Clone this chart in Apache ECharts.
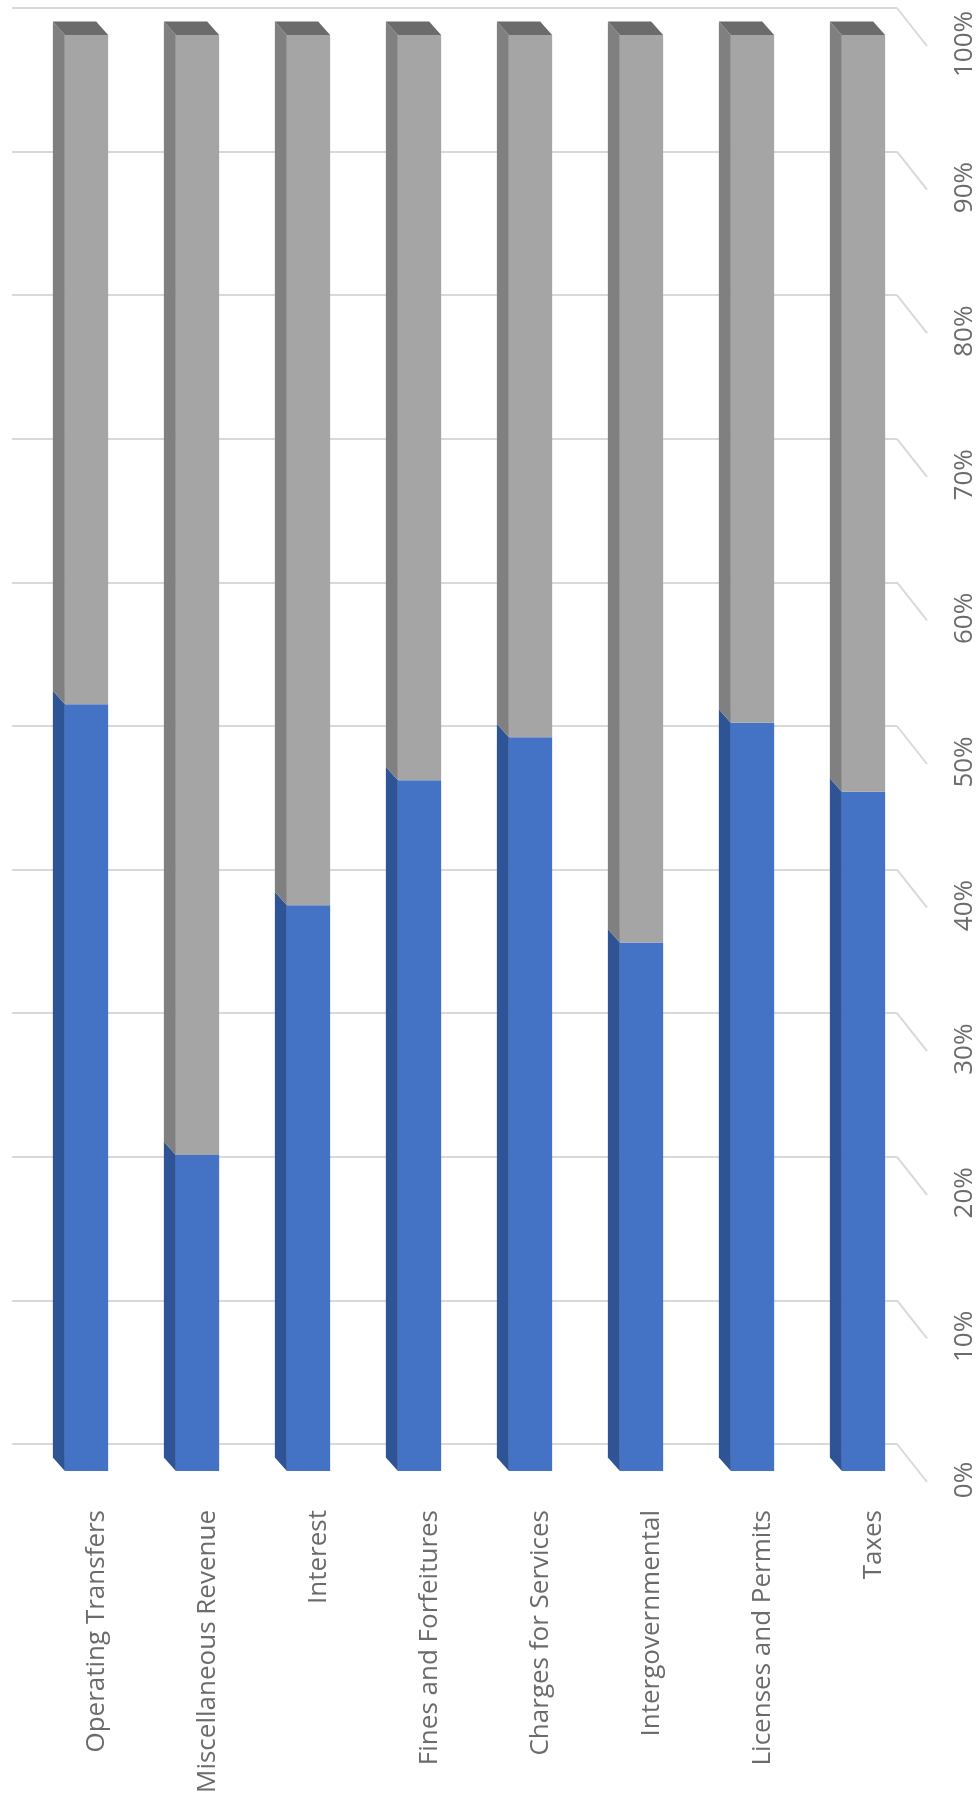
<!DOCTYPE html>
<html><head><meta charset="utf-8">
<script src="https://cdn.jsdelivr.net/npm/echarts@6/dist/echarts.min.js"></script>
<style>html,body{margin:0;padding:0;background:#fff}#c{width:978px;height:1800px}</style>
</head><body><div id="c"></div>
<script>
const categories = ['Operating Transfers','Miscellaneous Revenue','Interest','Fines and Forfeitures','Charges for Services','Intergovernmental','Licenses and Permits','Taxes'];
const blueShare = [53.4, 22.0, 39.4, 48.1, 51.1, 36.8, 52.1, 47.3];
const greyShare = [46.6, 78.0, 60.6, 51.9, 48.9, 63.2, 47.9, 52.7];
const tickValues = [0, 10, 20, 30, 40, 50, 60, 70, 80, 90, 100];
const tickLabels = ['0%','10%','20%','30%','40%','50%','60%','70%','80%','90%','100%'];

const FONT = 'Open Sans';
const TEXT = '#6b6b6b';
const GRID_COLOR = '#d9d9d9';

function segRenderer(front, side, topColor) {
  return function (params, api) {
    const i = api.value(0);
    const pb = api.coord([i, api.value(1)]);
    const pt = api.coord([i, api.value(2)]);
    const band = api.size([1, 0])[0];
    const w = band * 0.39;
    const dx = band * 0.108;
    const dy = 13.5;
    const xl = pb[0] - w / 2, xr = pb[0] + w / 2;
    const children = [
      { type: 'polygon', shape: { points: [[xl, pt[1]], [xl, pb[1]], [xl - dx, pb[1] - dy], [xl - dx, pt[1] - dy]] }, style: { fill: side } },
      { type: 'rect', shape: { x: xl, y: pt[1], width: w, height: pb[1] - pt[1] }, style: { fill: front } }
    ];
    if (topColor) {
      children.push({ type: 'polygon', shape: { points: [[xl, pt[1]], [xr, pt[1]], [xr - dx, pt[1] - dy], [xl - dx, pt[1] - dy]] }, style: { fill: topColor } });
    }
    return { type: 'group', children: children };
  };
}

const chart = echarts.init(document.getElementById('c'), null, { renderer: 'canvas' });
chart.setOption({
  animation: false,
  backgroundColor: '#ffffff',
  grid: [
    { left: 12, right: 81, top: 8, height: 1436 },
    { left: 31, right: 59, top: 35, height: 1436 },
    { left: 41.5, right: 48.5, top: 35, height: 1436 },
    { left: 12, right: 51, top: 44, height: 1436 }
  ],
  xAxis: [
    { gridIndex: 0, type: 'value', min: 0, max: 1, show: false },
    { gridIndex: 1, type: 'category', data: categories, show: false },
    { gridIndex: 2, type: 'category', data: categories,
      axisLine: { show: false }, axisTick: { show: false }, splitLine: { show: false },
      axisLabel: { rotate: 90, margin: 39, fontFamily: FONT, fontSize: 26, color: TEXT, interval: 0 } },
    { gridIndex: 3, type: 'value', min: 0, max: 1, show: false }
  ],
  yAxis: [
    { gridIndex: 0, type: 'value', min: 0, max: 100, interval: 10,
      axisLine: { show: false }, axisTick: { show: false }, axisLabel: { show: false },
      splitLine: { show: true, lineStyle: { color: GRID_COLOR, width: 2 } } },
    { gridIndex: 1, type: 'value', min: 0, max: 100, show: false },
    { gridIndex: 2, type: 'value', min: 0, max: 100, show: false },
    { gridIndex: 3, type: 'value', min: 0, max: 100, interval: 10, position: 'right',
      axisLine: { show: false }, axisTick: { show: false }, splitLine: { show: false },
      axisLabel: { rotate: 90, margin: 26, fontFamily: FONT, fontSize: 26, color: TEXT,
        formatter: function (v) { return tickLabels[tickValues.indexOf(v)]; } } }
  ],
  series: [
    { type: 'custom', xAxisIndex: 0, yAxisIndex: 0, clip: false, silent: true, z: 1,
      data: tickValues.map(v => [1, v]),
      renderItem: function (params, api) {
        const p = api.coord([api.value(0), api.value(1)]);
        return { type: 'line', shape: { x1: p[0], y1: p[1], x2: p[0] + 30, y2: p[1] + 38 },
          style: { stroke: GRID_COLOR, lineWidth: 2 } };
      } },
    { type: 'custom', name: 'Share A', xAxisIndex: 1, yAxisIndex: 1, clip: false, z: 3,
      data: blueShare.map((v, i) => [i, 0, v]),
      encode: { x: 0, y: [1, 2] },
      renderItem: segRenderer('#4472C4', '#2F5496', null) },
    { type: 'custom', name: 'Share B', xAxisIndex: 1, yAxisIndex: 1, clip: false, z: 3,
      data: greyShare.map((v, i) => [i, blueShare[i], blueShare[i] + v]),
      encode: { x: 0, y: [1, 2] },
      renderItem: segRenderer('#A5A5A5', '#808080', '#6B6B6B') }
  ]
});
</script>
</body></html>
